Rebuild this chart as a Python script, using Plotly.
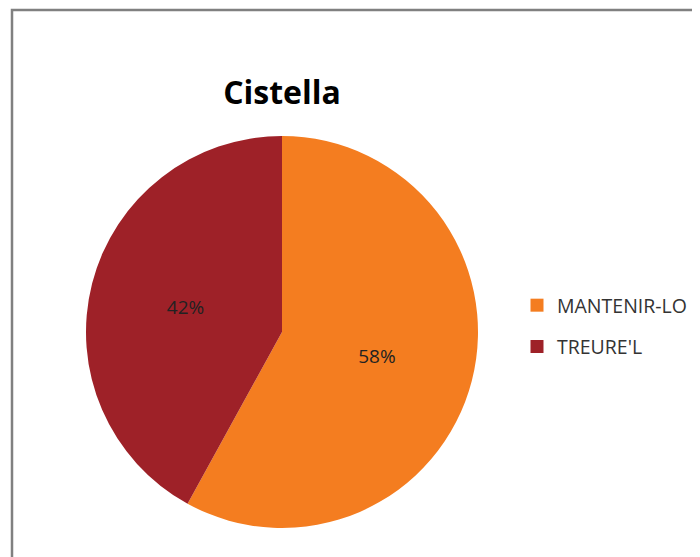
import plotly.graph_objects as go

labels = ["MANTENIR-LO", "TREURE'L"]
values = [58, 42]
colors = ["#F47D20", "#9E2128"]
title_text = "Cistella"

# page body has an 8px margin; work in figure coordinates
OFF = 8
W, H = 700 - OFF, 557 - OFF
cx, cy, r = 282 - OFF, 332 - OFF, 196

fig = go.Figure()
fig.add_trace(go.Pie(
    labels=labels,
    values=values,
    sort=False,
    direction="clockwise",
    rotation=0,
    marker=dict(colors=colors, line=dict(width=0)),
    textinfo="percent",
    textposition="inside",
    insidetextorientation="horizontal",
    textfont=dict(family="Open Sans", size=19, color="#222222"),
    domain=dict(x=[(cx - r) / W, (cx + r) / W], y=[(H - cy - r) / H, (H - cy + r) / H]),
    hoverinfo="label+percent",
    showlegend=False,
))

# legend entries (library legend) via empty marker traces
for i, (lab, col) in enumerate(zip(labels, colors)):
    fig.add_trace(go.Scatter(
        x=[None], y=[None], mode="markers", name=lab,
        marker=dict(symbol="square", size=13, color=col),
        legendgroup=str(i), showlegend=True,
    ))

fig.update_layout(
    width=W, height=H,
    margin=dict(l=0, r=0, t=0, b=0),
    paper_bgcolor="white",
    plot_bgcolor="white",
    xaxis=dict(visible=False),
    yaxis=dict(visible=False),
    title=dict(text="<b>" + title_text + "</b>", x=cx / W, xanchor="center",
               y=1 - (93 - OFF) / H, yanchor="middle",
               font=dict(family="Open Sans", size=32, color="#000000")),
    legend=dict(x=(517 - OFF) / W, y=1 - (326 - OFF) / H, xanchor="left", yanchor="middle",
                font=dict(family="Open Sans", size=19.5, color="#333333"),
                bgcolor="rgba(0,0,0,0)", tracegroupgap=13),
    shapes=[dict(type="rect", xref="paper", yref="paper",
                 x0=(12 - OFF) / W, x1=1.1, y0=-0.1, y1=1 - (10 - OFF) / H,
                 line=dict(color="#808080", width=2.5))],
)

fig.write_html("out.html")
